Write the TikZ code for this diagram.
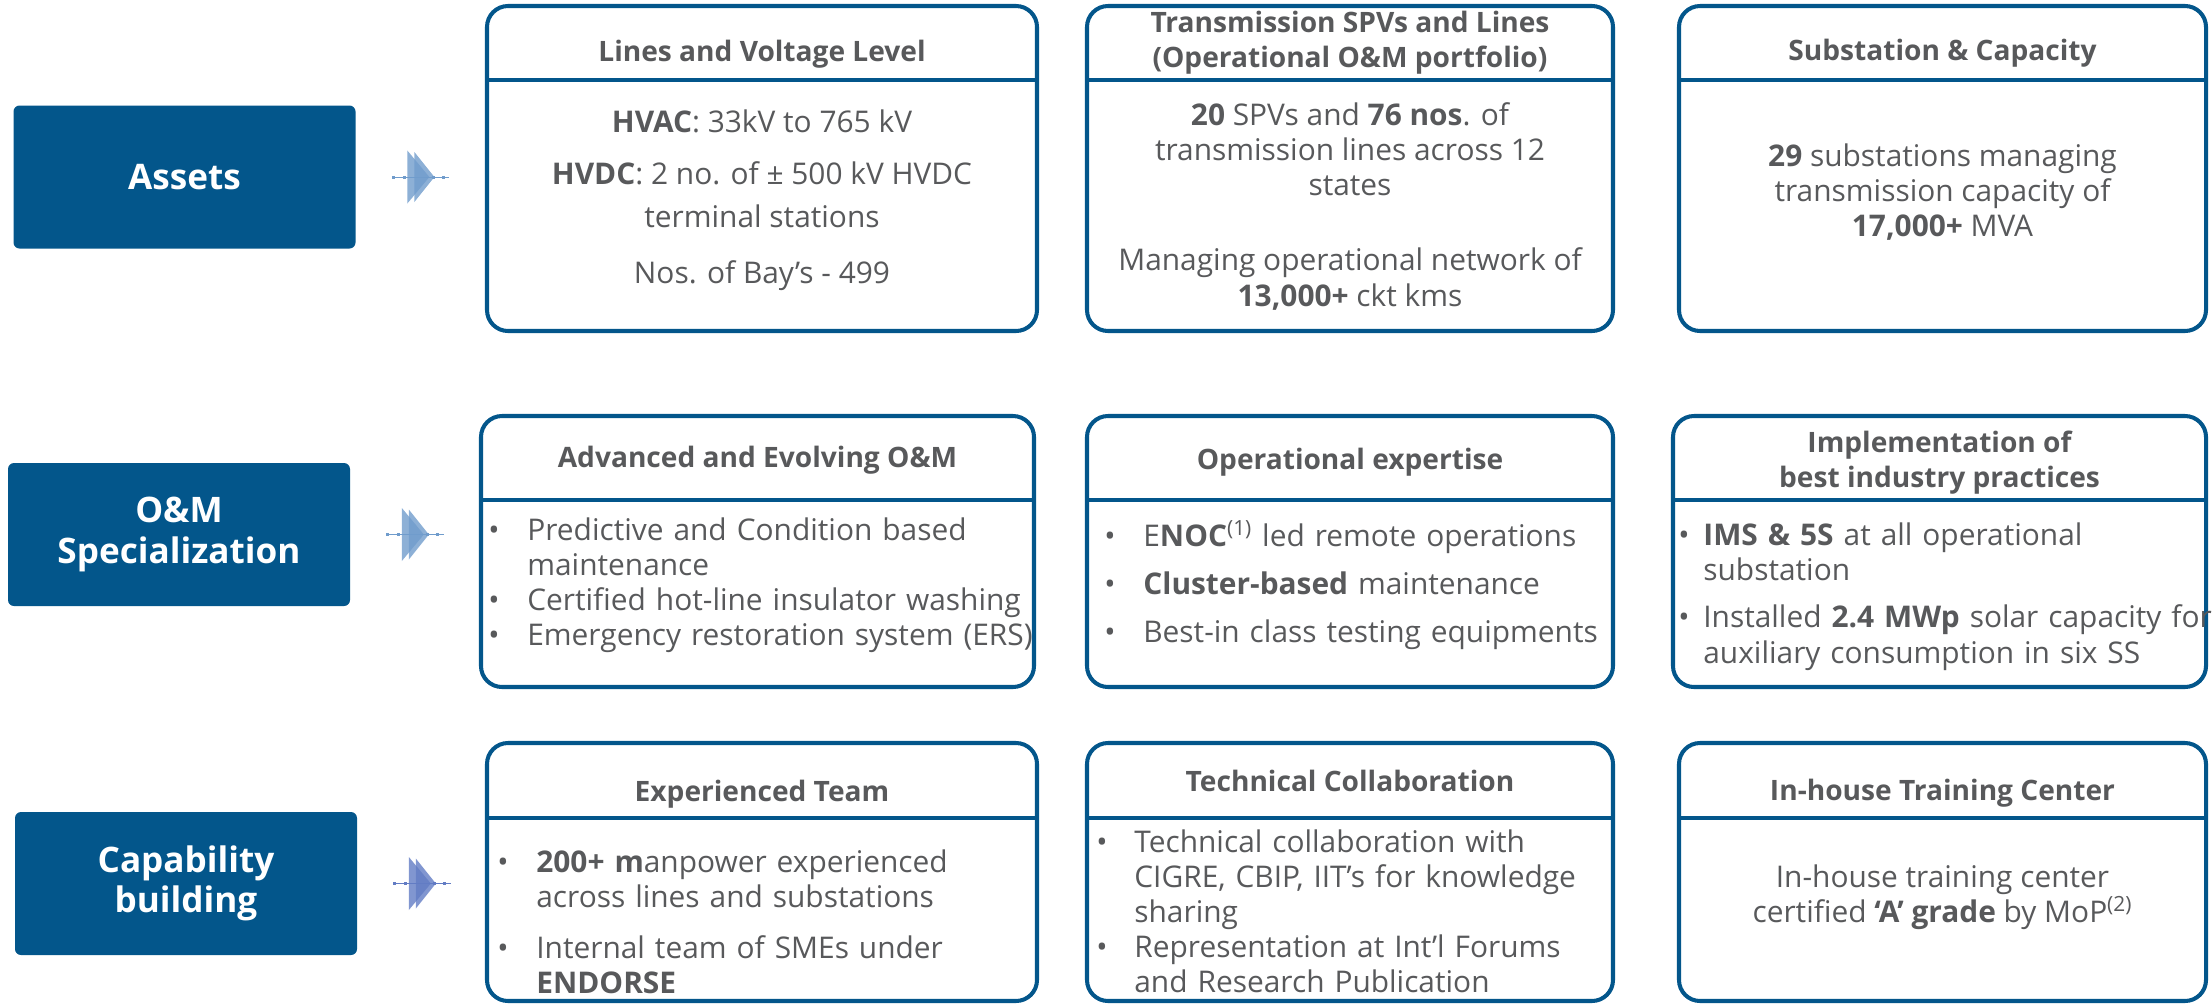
\documentclass[tikz,border=0pt]{standalone}
\usepackage{fontspec}
\setmainfont{Open Sans}
\usepackage{tikz}
\usetikzlibrary{calc,positioning}
\definecolor{deepblue}{RGB}{3,86,139}
\definecolor{textgrey}{RGB}{88,89,91}
\definecolor{iconblue}{RGB}{112,156,204}
\definecolor{iconindigo}{RGB}{98,124,196}
\newlength{\bulindent}
\newcommand{\bul}{\par\noindent\hangindent=\bulindent\hangafter=1\makebox[\bulindent][l]{\textbullet}}
\tikzset{%
  % Specifications for style of nodes:
  rowtitle/.style = {rectangle, rounded corners=0.12cm, fill=deepblue,
    minimum width=6.84cm, minimum height=2.86cm, text=white,
    align=center, font=\fontsize{20}{23}\selectfont\bfseries},
  card/.style = {rectangle, rounded corners=0.42cm, draw=deepblue,
    line width=2.3pt, inner sep=0pt, outer sep=0pt},
  divider/.style = {draw=deepblue, line width=2.3pt},
  cardhead/.style = {align=center, text=textgrey, inner sep=0pt,
    font=\fontsize{16}{20}\selectfont\bfseries},
  cardtext/.style = {align=center, text=textgrey, inner sep=0pt,
    font=\fontsize{17}{20}\selectfont},
  cardlist/.style 2 args = {anchor=west, align=left, text width=12cm,
    text=textgrey, inner sep=0pt, font=\fontsize{17}{20}\selectfont,
    execute at begin node={\setlength{\parskip}{#1}\setlength{\bulindent}{#2}}},
}

\begin{document}
\begin{tikzpicture}
  \useasboundingbox (0,0) rectangle (44.24,-20.08);
  % Row titles
  \node (assets)[rowtitle] at (3.69,-3.54) {Assets};
  \node (om)[rowtitle] at (3.58,-10.69) {O\&M\\Specialization};
  \node (cap)[rowtitle] at (3.72,-17.67) {Capability\\building};
  % Arrow icons next to the row titles
  \foreach \lbl/\tint in {assets/iconblue, om/iconblue, cap/iconindigo}{
    \begin{scope}[shift={($(\lbl.east)+(1.3,0)$)}]
      \draw[\tint, line width=0.5pt] (-0.57,0) -- (0.57,0);
      \foreach \dx in {-0.55,-0.33,0.25,0.45}
        \fill[\tint] (\dx-0.03,-0.03) rectangle (\dx+0.03,0.03);
      \fill[\tint, opacity=0.8] (-0.27,0.53) -- (0.17,0) -- (-0.27,-0.53) -- cycle;
      \fill[\tint, opacity=0.8] (-0.13,0.5) -- (0.27,0) -- (-0.13,-0.5) -- cycle;
    \end{scope}
  }

  % Assets row
  \node (lv)[card, minimum width=11cm, minimum height=6.5cm, anchor=north west] at (9.74,-0.12) {};
  \node (tl)[card, minimum width=10.52cm, minimum height=6.5cm, right=1cm of lv] {};
  \node (sc)[card, minimum width=10.54cm, minimum height=6.5cm, right=1.32cm of tl] {};
  \foreach \c in {lv,tl,sc}
    \draw[divider] ([yshift=-1.48cm]\c.north west) -- ([yshift=-1.48cm]\c.north east);
  \node (lvHead)[cardhead] at ([yshift=-0.96cm]lv.north) {Lines and Voltage Level};
  \node (tlHead)[cardhead] at ([yshift=-0.74cm]tl.north) {Transmission SPVs and Lines\\(Operational O\&M portfolio)};
  \node (scHead)[cardhead] at ([yshift=-0.94cm]sc.north) {Substation \& Capacity};
  \node (lvText)[cardtext] at ([yshift=-0.63cm]lv.center) {%
    \textbf{HVAC}: 33kV to 765 kV\\[10pt]
    \textbf{HVDC}: 2 no. of ± 500 kV HVDC\\[4pt]
    terminal stations\\[12pt]
    Nos. of Bay’s - 499};
  \node (tlText)[cardtext] at ([yshift=-0.75cm]tl.center) {%
    \textbf{20} SPVs and \textbf{76 nos}. of\\
    transmission lines across 12\\
    states\\[23pt]
    Managing operational network of\\
    \textbf{13,000+} ckt kms};
  \node (scText)[cardtext] at ([yshift=-0.47cm]sc.center) {%
    \textbf{29} substations managing\\
    transmission capacity of\\
    \textbf{17,000+} MVA};

  % O&M row
  \node (ae)[card, minimum width=11.06cm, minimum height=5.42cm, anchor=north west] at (9.62,-8.32) {};
  \node (oe)[card, minimum width=10.52cm, minimum height=5.42cm, right=1.06cm of ae] {};
  \node (bp)[card, minimum width=10.66cm, minimum height=5.42cm, right=1.2cm of oe] {};
  \foreach \c in {ae,oe,bp}
    \draw[divider] ([yshift=-1.68cm]\c.north west) -- ([yshift=-1.68cm]\c.north east);
  \node (aeHead)[cardhead] at ([yshift=-0.88cm]ae.north) {Advanced and Evolving O\&M};
  \node (oeHead)[cardhead] at ([yshift=-0.92cm]oe.north) {Operational expertise};
  \node (bpHead)[cardhead] at ([yshift=-0.94cm]bp.north) {Implementation of\\best industry practices};
  \node (aeText)[cardlist={0pt}{0.78cm}] at ([xshift=0.14cm,yshift=-0.55cm]ae.west) {%
    \bul Predictive and Condition based\newline maintenance
    \bul Certified hot-line insulator washing
    \bul Emergency restoration system (ERS)\par};
  \node (oeText)[cardlist={7.4pt}{0.78cm}] at ([xshift=0.34cm,yshift=-0.45cm]oe.west) {%
    \bul E\textbf{NOC}\textsuperscript{(1)} led remote operations
    \bul \textbf{Cluster-based} maintenance
    \bul Best-in class testing equipments\par};
  \node (bpText)[cardlist={7pt}{0.5cm}] at ([xshift=0.1cm,yshift=-0.65cm]bp.west) {%
    \bul \textbf{IMS \& 5S} at all operational\newline substation
    \bul Installed \textbf{2.4 MWp} solar capacity for\newline auxiliary consumption in six SS\par};

  % Capability row
  \node (et)[card, minimum width=11cm, minimum height=5.16cm, anchor=north west] at (9.74,-14.86) {};
  \node (tc)[card, minimum width=10.52cm, minimum height=5.16cm, right=1cm of et] {};
  \node (tr)[card, minimum width=10.54cm, minimum height=5.16cm, right=1.32cm of tc] {};
  \foreach \c in {et,tc,tr}
    \draw[divider] ([yshift=-1.5cm]\c.north west) -- ([yshift=-1.5cm]\c.north east);
  \node (etHead)[cardhead] at ([yshift=-1.02cm]et.north) {Experienced Team};
  \node (tcHead)[cardhead] at ([yshift=-0.76cm]tc.north) {Technical Collaboration};
  \node (trHead)[cardhead] at ([yshift=-1.0cm]tr.north) {In-house Training Center};
  \node (etText)[cardlist={9pt}{0.78cm}] at ([xshift=0.2cm,yshift=-0.72cm]et.west) {%
    \bul \textbf{200+ m}anpower experienced\newline across lines and substations
    \bul Internal team of SMEs under\newline \textbf{ENDORSE}\par};
  \node (tcText)[cardlist={0pt}{0.76cm}] at ([xshift=0.18cm,yshift=-0.66cm]tc.west) {%
    \bul Technical collaboration with\newline CIGRE, CBIP, IIT’s for knowledge\newline sharing
    \bul Representation at Int’l Forums\newline and Research Publication\par};
  \node (trText)[cardtext] at ([yshift=-0.5cm]tr.center) {%
    In-house training center\\
    certified \textbf{‘A’ grade} by MoP\textsuperscript{(2)}};
\end{tikzpicture}
\end{document}
